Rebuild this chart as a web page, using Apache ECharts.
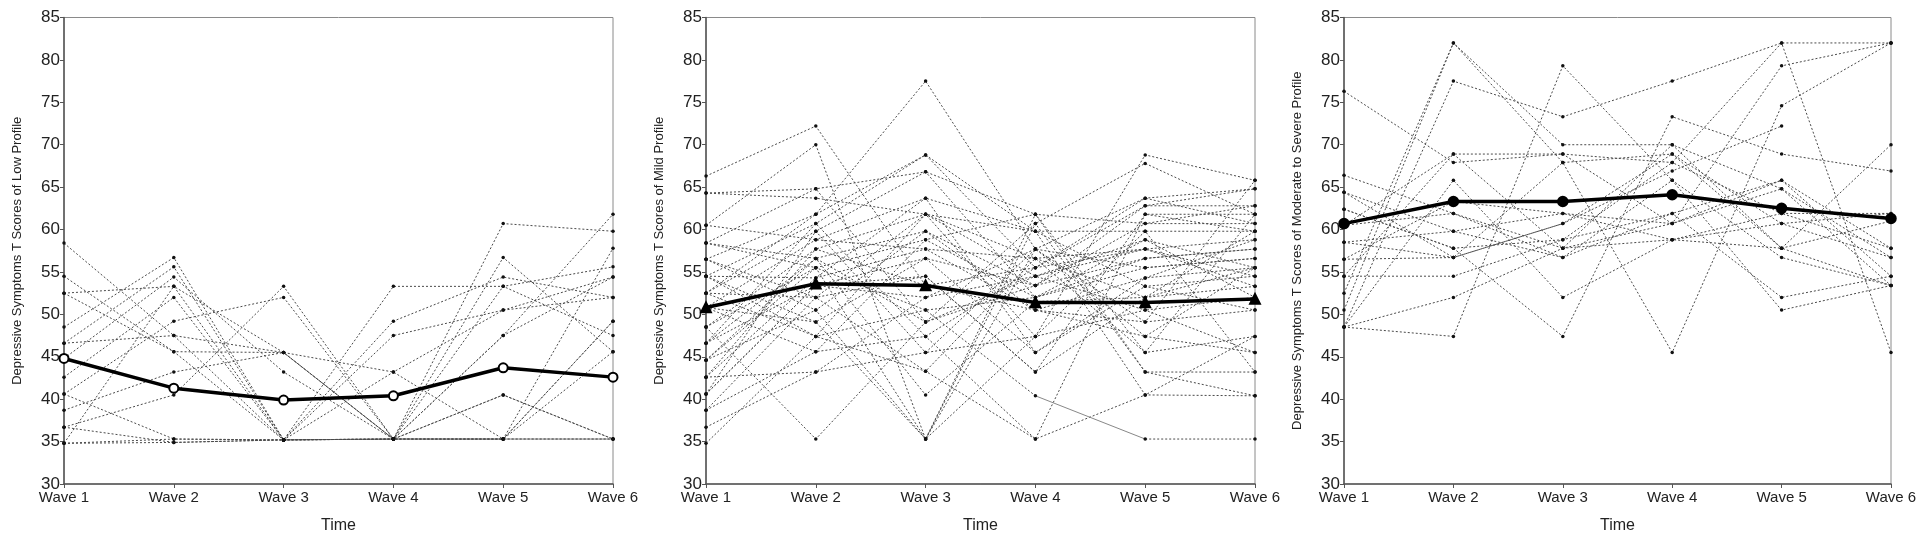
<!DOCTYPE html>
<html>
<head>
<meta charset="utf-8">
<script src="https://cdn.jsdelivr.net/npm/echarts@6/dist/echarts.min.js"></script>
<style>
html,body{margin:0;padding:0;background:#fff;}
#chart{width:1920px;height:540px;}
</style>
</head>
<body>
<div id="chart"></div>
<script>
// ---------------- DATA ----------------
const waves = ['Wave 1', 'Wave 2', 'Wave 3', 'Wave 4', 'Wave 5', 'Wave 6'];
const yTicksMin = 30, yTicksMax = 85, yTickStep = 5;

const panelTitles = [
  'Depressive Symptoms T Scores of Low Profile',
  'Depressive Symptoms T Scores of Mild Profile',
  'Depressive Symptoms T Scores of Moderate to Severe Profile'
];
const xTitle = 'Time';

// Low profile: individual trajectories
const lowIndividuals = [
  [58.4, 47.5, 35.2, 35.3, 53.3, 55.6],
  [54.5, 45.6, 45.5, 35.3, 60.7, 59.8],
  [52.5, 53.3, 45.5, 35.3, 47.5, 61.8],
  [48.5, 56.7, 35.2, 49.2, 54.4, 52.0],
  [46.6, 55.6, 35.2, 53.3, 53.3, 47.5],
  [44.8, 54.4, 43.2, 35.3, 35.3, 57.8],
  [42.6, 52.0, 35.2, 47.5, 50.5, 54.4],
  [40.6, 49.2, 52.0, 35.3, 40.5, 35.3],
  [38.7, 43.2, 45.5, 43.2, 35.3, 49.2],
  [36.7, 40.5, 53.3, 35.3, 56.7, 45.6],
  [34.8, 53.3, 35.2, 35.3, 35.3, 35.3],
  [34.8, 35.3, 35.2, 35.3, 47.5, 54.4],
  [34.8, 34.9, 35.2, 35.3, 35.3, 35.3],
  [46.6, 47.5, 45.5, 35.3, 35.3, 45.6],
  [40.6, 35.3, 35.2, 43.2, 50.5, 52.0],
  [52.5, 45.6, 35.2, 35.3, 35.3, 49.2],
  [36.7, 34.9, 35.2, 35.3, 40.5, 35.3]
];
const lowSolid = [null, null, null, null, 35.3, 35.3];
const lowMean = [44.8, 41.3, 39.9, 40.4, 43.7, 42.6];

// Mild profile: individual trajectories
const mildIndividuals = [
  [66.3, 72.2, 53.4, 50.5, 47.4, 45.5],
  [64.3, 63.7, 61.8, 54.5, 58.8, 55.5],
  [60.5, 70.0, 35.3, 47.4, 68.8, 65.8],
  [58.4, 64.8, 49.1, 60.7, 67.8, 61.8],
  [56.5, 61.8, 77.5, 57.7, 63.7, 64.8],
  [54.5, 60.7, 68.8, 55.5, 62.8, 62.8],
  [52.5, 59.8, 66.8, 61.8, 60.7, 60.7],
  [50.8, 58.8, 63.7, 59.8, 59.8, 59.8],
  [48.5, 57.7, 61.8, 56.6, 57.7, 58.8],
  [46.6, 56.6, 59.8, 53.4, 56.6, 57.7],
  [44.6, 55.5, 58.8, 52.0, 55.5, 56.6],
  [42.6, 54.3, 57.7, 50.5, 54.3, 55.5],
  [40.6, 53.4, 56.6, 45.5, 53.3, 54.5],
  [38.7, 52.0, 54.5, 43.2, 52.0, 53.3],
  [36.7, 43.2, 45.5, 47.4, 50.5, 52.0],
  [34.8, 47.4, 50.5, 40.4, null, null],
  [58.4, 55.5, 35.3, 57.7, 49.1, 50.5],
  [56.5, 50.5, 35.3, 61.8, 45.5, 47.4],
  [54.5, 49.1, 35.3, 60.7, 43.2, 43.2],
  [52.5, 47.4, 43.3, 35.3, 40.5, 40.4],
  [50.8, 45.6, 47.4, 35.3, 61.8, 61.8],
  [48.5, 35.3, 49.1, 53.4, 62.8, 64.8],
  [46.6, 53.4, 52.0, 54.5, 50.5, 45.5],
  [44.6, 56.6, 40.5, 51.5, 52.0, 59.8],
  [42.6, 57.7, 53.4, 55.5, 57.7, 53.3],
  [40.6, 59.8, 45.5, 57.7, 55.5, 56.6],
  [56.5, 52.0, 61.8, 47.4, 59.8, 43.2],
  [54.5, 54.3, 63.7, 45.5, 54.3, 58.8],
  [52.5, 61.8, 68.8, 59.8, 53.3, 50.5],
  [60.5, 58.8, 57.7, 56.6, 45.5, 61.8],
  [64.3, 64.8, 66.8, 52.0, 56.6, 57.7],
  [50.8, 49.1, 56.6, 53.4, 60.7, 62.8],
  [48.5, 55.5, 50.5, 52.0, 58.8, 52.0],
  [46.6, 60.7, 47.4, 55.5, 63.7, 60.7],
  [44.6, 50.5, 59.8, 50.5, 49.1, 65.8],
  [42.6, 43.2, 52.0, 57.7, 47.4, 55.5],
  [38.7, 45.6, 58.8, 61.8, 43.2, 40.4],
  [40.6, 53.4, 54.5, 43.2, 61.8, 59.8],
  [58.4, 56.6, 49.1, 54.5, 57.7, 54.5],
  [54.5, 47.4, 61.8, 59.8, 40.5, 47.4],
  [52.5, 52.0, 43.3, 56.6, 52.0, 55.5],
  [null, null, null, null, 35.3, 35.3]
];
const mildSolid = [null, null, null, 40.4, 35.3, null];
const mildMean = [50.8, 53.6, 53.4, 51.4, 51.4, 51.8];

// Moderate to severe profile: individual trajectories
const severeIndividuals = [
  [76.3, 67.9, 68.9, 60.7, 65.8, 54.5],
  [66.4, 61.9, 57.8, 70.0, 64.8, 53.4],
  [64.4, 56.7, 60.7, 68.9, 57.8, 61.0],
  [62.4, 57.8, 47.4, 73.3, 68.9, 66.9],
  [60.5, 68.9, 68.9, 67.9, 61.9, 57.8],
  [58.5, 59.8, 56.7, 65.8, 56.7, 53.4],
  [56.5, 63.3, 61.9, 58.8, 60.7, 56.7],
  [54.5, 54.5, 58.8, 61.9, 52.0, 54.5],
  [52.5, 82.0, 70.0, 70.0, 57.8, 53.4],
  [50.5, 82.0, 67.9, 45.5, 74.6, 82.0],
  [48.5, 77.5, 73.3, 77.5, 82.0, 82.0],
  [48.5, 52.0, 57.8, 60.7, 79.3, 82.0],
  [48.5, 47.4, 79.3, 65.8, 50.5, 53.4],
  [48.5, 65.8, 52.0, 58.8, 61.9, 61.9],
  [56.5, 56.7, 60.7, 66.9, 72.2, null],
  [60.5, 61.9, 56.7, 61.9, 65.8, 57.8],
  [62.4, 57.8, 58.8, 67.9, 82.0, 45.5],
  [58.5, 56.7, 67.9, 68.9, 60.7, 61.9],
  [64.4, 59.8, 61.9, 60.7, 64.8, 56.7],
  [54.5, 68.9, 57.8, 58.8, 57.8, 70.0]
];
const severeMean = [60.7, 63.3, 63.3, 64.1, 62.5, 61.3];

// ---------------- CHART ----------------
const FONT = "'Liberation Sans Narrow', 'Arial Narrow', 'Liberation Sans', Arial, sans-serif";
const FONT_REG = "'Liberation Sans', Arial, sans-serif";

const grids = [
  { left: 64, top: 17.5, width: 549, height: 466.5, show: true, borderColor: '#8a8a8a', borderWidth: 1 },
  { left: 706, top: 17.5, width: 549, height: 466.5, show: true, borderColor: '#8a8a8a', borderWidth: 1 },
  { left: 1344, top: 17.5, width: 547, height: 466.5, show: true, borderColor: '#8a8a8a', borderWidth: 1 }
];

const xAxes = grids.map((g, i) => ({
  gridIndex: i,
  type: 'category',
  data: waves,
  boundaryGap: false,
  axisLine: { lineStyle: { color: '#555', width: 1.5 } },
  axisTick: { show: true, length: 4, lineStyle: { color: '#555' } },
  axisLabel: { color: '#222', fontSize: 15, fontFamily: FONT, margin: 6 },
  splitLine: { show: false },
  name: xTitle,
  nameLocation: 'middle',
  nameGap: 34,
  nameTextStyle: { color: '#222', fontSize: 16, fontFamily: FONT }
}));

const yAxes = grids.map((g, i) => ({
  gridIndex: i,
  type: 'value',
  min: yTicksMin,
  max: yTicksMax,
  interval: yTickStep,
  axisLine: { show: true, lineStyle: { color: '#555', width: 1.5 } },
  axisTick: { show: true, length: 4, lineStyle: { color: '#555' } },
  axisLabel: { color: '#222', fontSize: 17, fontFamily: FONT, margin: 4 },
  splitLine: { show: false },
  name: panelTitles[i],
  nameLocation: 'middle',
  nameGap: 40,
  nameTextStyle: { color: '#222', fontSize: 13, fontFamily: FONT_REG }
}));

const series = [];
function addIndividuals(list, gi) {
  list.forEach(arr => {
    series.push({
      type: 'line', xAxisIndex: gi, yAxisIndex: gi, data: arr,
      symbol: 'circle', symbolSize: 3.5, showSymbol: true,
      lineStyle: { color: '#4a4a4a', width: 1, type: [2, 2] },
      itemStyle: { color: '#111' },
      connectNulls: false, silent: true, animation: false, z: 2
    });
  });
}
function addSolid(arr, gi) {
  series.push({
    type: 'line', xAxisIndex: gi, yAxisIndex: gi, data: arr,
    symbol: 'none', lineStyle: { color: '#888', width: 1, type: 'solid' },
    silent: true, animation: false, z: 2
  });
}
function addMean(arr, gi, symbol, size) {
  series.push({
    type: 'line', xAxisIndex: gi, yAxisIndex: gi, data: arr,
    symbol: symbol, symbolSize: size, showSymbol: true,
    lineStyle: { color: '#000', width: 3.5 },
    itemStyle: { color: '#000', borderColor: '#000', borderWidth: 2.5 },
    silent: true, animation: false, z: 5
  });
}

addIndividuals(lowIndividuals, 0);
addSolid(lowSolid, 0);
addMean(lowMean, 0, 'emptyCircle', 9);

addIndividuals(mildIndividuals, 1);
addSolid(mildSolid, 1);
addMean(mildMean, 1, 'triangle', 9);

addIndividuals(severeIndividuals, 2);
addMean(severeMean, 2, 'circle', 9);

const chart = echarts.init(document.getElementById('chart'), null, { renderer: 'canvas' });
chart.setOption({
  animation: false,
  backgroundColor: '#fff',
  grid: grids,
  xAxis: xAxes,
  yAxis: yAxes,
  series: series
});
</script>
</body>
</html>
